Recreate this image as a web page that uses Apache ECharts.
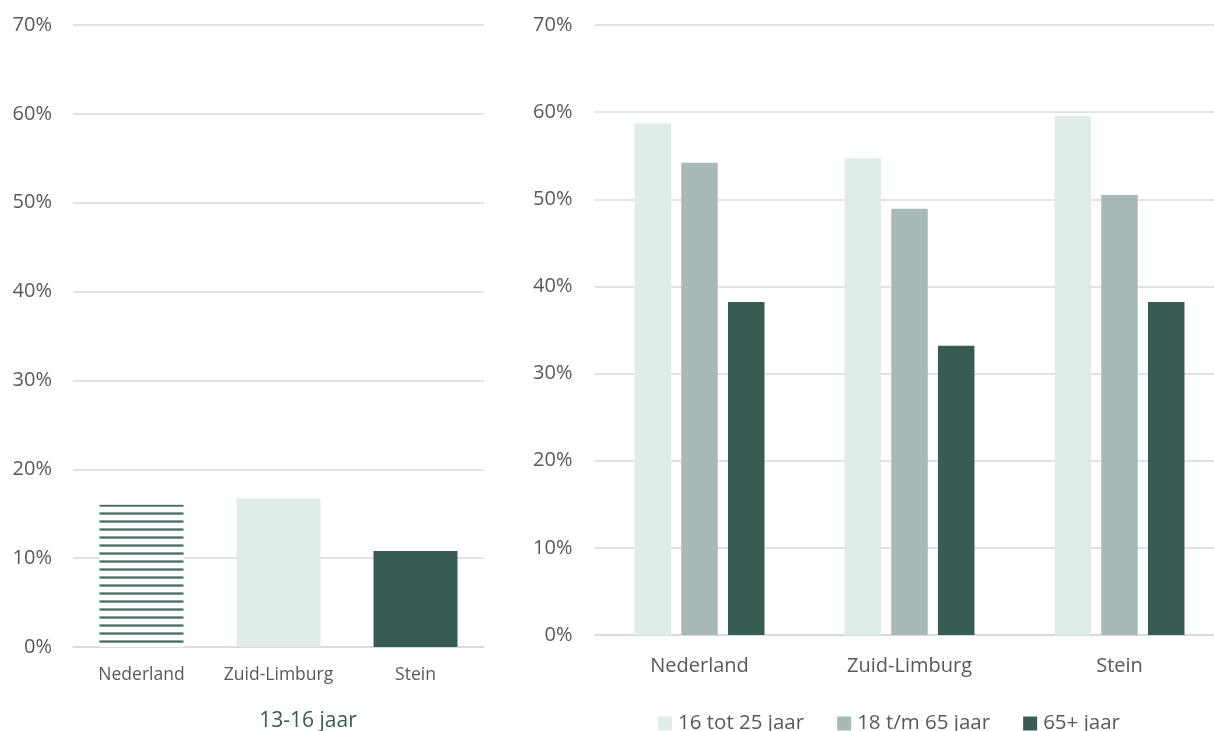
<!DOCTYPE html>
<html>
<head>
<meta charset="utf-8">
<script src="https://cdn.jsdelivr.net/npm/echarts@6/dist/echarts.min.js"></script>
<style>
html,body{margin:0;padding:0;background:#fff;}
#chart{width:1214px;height:731px;}
</style>
</head>
<body>
<div id="chart"></div>
<script>
// ---- data ----
var categories = ['Nederland', 'Zuid-Limburg', 'Stein'];
var youthTitle = '13-16 jaar';
var youthValues = [16.0, 16.7, 10.8];
var seriesNames = ['16 tot 25 jaar', '18 t/m 65 jaar', '65+ jaar'];
var values16to25 = [58.7, 54.7, 59.6];
var values18to65 = [54.2, 48.9, 50.5];
var values65plus = [38.2, 33.2, 38.2];
var yTicksMax = 70;
var yTickStep = 10;

// ---- styles ----
var cLight = '#e0ecea', cMid = '#a7bab7', cDark = '#385b54';
var txt = '#595959', gridC = '#d9d9d9';
var font = 'Open Sans';

function hatch() {
  var c = document.createElement('canvas');
  c.width = 8; c.height = 8;
  var g = c.getContext('2d');
  g.fillStyle = '#ffffff'; g.fillRect(0, 0, 8, 8);
  g.fillStyle = '#8aa39d'; g.fillRect(0, 0, 8, 1);
  g.fillStyle = '#4a6b63'; g.fillRect(0, 1, 8, 1);
  g.fillStyle = '#7f9a94'; g.fillRect(0, 2, 8, 1);
  return c;
}

var chart = echarts.init(document.getElementById('chart'), null, {renderer: 'canvas'});

function yAxis(gi, margin, size) {
  return {
    type: 'value', gridIndex: gi, min: 0, max: yTicksMax, interval: yTickStep,
    axisLine: {show: false}, axisTick: {show: false},
    axisLabel: {formatter: '{value}%', color: txt, fontFamily: font, fontSize: size, margin: margin},
    splitLine: {lineStyle: {color: gridC, width: 1.5}}
  };
}
function xAxis(gi, margin, size) {
  return {
    type: 'category', gridIndex: gi, data: categories,
    axisLine: {lineStyle: {color: gridC, width: 1.5}}, axisTick: {show: false},
    axisLabel: {color: txt, fontFamily: font, fontSize: size, margin: margin, interval: 0, hideOverlap: false}
  };
}

var youthColors = [{image: hatch(), repeat: 'repeat'}, cLight, cDark];

var option = {
  animation: false,
  backgroundColor: '#ffffff',
  title: {
    text: youthTitle, left: 303, top: 706, textAlign: 'center',
    textStyle: {color: cDark, fontFamily: font, fontSize: 21, fontWeight: 'normal'}
  },
  legend: {
    data: seriesNames, left: 653, top: 708, itemWidth: 14, itemHeight: 14, itemGap: 33,
    icon: 'rect',
    textStyle: {color: txt, fontFamily: font, fontSize: 20.5, padding: [0, 0, 0, 1]}
  },
  grid: [
    {left: 73, top: 25, width: 411, height: 622, outerBoundsMode: 'none', containLabel: false},
    {left: 594.5, top: 25, width: 630, height: 610, outerBoundsMode: 'none', containLabel: false}
  ],
  xAxis: [xAxis(0, 19, 17.5), xAxis(1, 21, 20)],
  yAxis: [yAxis(0, 21, 20), yAxis(1, 22, 20)],
  series: [
    {
      type: 'bar', xAxisIndex: 0, yAxisIndex: 0, barWidth: 84,
      data: youthValues.map(function (v, i) { return {value: v, itemStyle: {color: youthColors[i]}}; })
    },
    {name: seriesNames[0], type: 'bar', xAxisIndex: 1, yAxisIndex: 1, barWidth: 36.5, barGap: '28%', itemStyle: {color: cLight}, data: values16to25},
    {name: seriesNames[1], type: 'bar', xAxisIndex: 1, yAxisIndex: 1, barWidth: 36.5, barGap: '28%', itemStyle: {color: cMid}, data: values18to65},
    {name: seriesNames[2], type: 'bar', xAxisIndex: 1, yAxisIndex: 1, barWidth: 36.5, barGap: '28%', itemStyle: {color: cDark}, data: values65plus}
  ]
};
chart.setOption(option);
</script>
</body>
</html>
